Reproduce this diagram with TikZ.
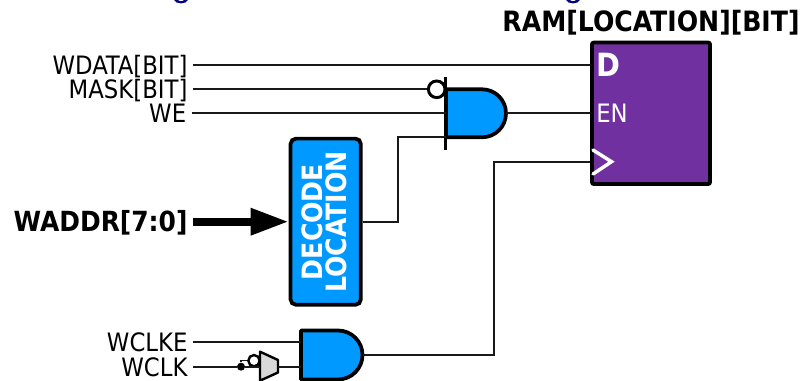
\documentclass[tikz,border=0pt]{standalone}
\usepackage{fontspec}
\setmainfont{DejaVu Sans Condensed}
\usetikzlibrary{arrows.meta}

\begin{document}
\begin{tikzpicture}[x=0.75pt,y=-0.75pt]
	\tikzstyle{wire} = [line width=1.5pt, black!90]
	\tikzstyle{gate} = [draw=black, line width=2.8pt, line join=round, fill=gateblue]
	\tikzstyle{lbl} = [anchor=east, inner sep=0pt, outer sep=4pt, font=\fontsize{19}{19}\selectfont, text height=14pt, text depth=0pt]
	\tikzstyle{lblb} = [lbl, font=\fontsize{20.8}{21}\selectfont\bfseries, text height=15.4pt]
	\definecolor{gateblue}{HTML}{0099FF}
	\definecolor{rampurple}{HTML}{7030A0}
	\definecolor{titlenavy}{HTML}{000080}
	\useasboundingbox (0,0) rectangle (801,381);
	% top edge
	\fill [titlenavy] (174,0) .. controls (176,4.5) and (186,4.5) .. (188,0) -- (184,0) .. controls (183,1.5) and (179,1.5) .. (178,0) -- cycle;
	\fill [titlenavy] (566,0) .. controls (568,4.5) and (578,4.5) .. (580,0) -- (576,0) .. controls (575,1.5) and (571,1.5) .. (570,0) -- cycle;
	% inputs
	\node [lbl] (wdata) at (192.8,65.3) {WDATA[BIT]};
	\node [lbl] (mask) at (192.8,89.3) {MASK[BIT]};
	\node [lbl] (we) at (191.5,113.3) {WE};
	\node [lblb] (waddr) at (192.8,221.7) {WADDR[7:0]};
	\node [lbl] (wclke) at (192.8,342.3) {WCLKE};
	\node [lbl] (wclk) at (192.8,366.7) {WCLK};
	% ram
	\node [draw=black, line width=2.8pt, fill=rampurple, rounded corners=1.5pt, minimum width=88.6pt, minimum height=106.2pt, inner sep=0pt] (ram) at (651,113.3) {};
	\node [anchor=south, inner sep=0pt, font=\fontsize{21}{21}\selectfont\bfseries] (ramname) at (651,35) {RAM[LOCATION][BIT]};
	\node [anchor=west, inner sep=0pt, text=white, font=\fontsize{24}{24}\selectfont\bfseries] (d) at (596,65.3) {D};
	\node [anchor=west, inner sep=0pt, text=white, font=\fontsize{19}{19}\selectfont] (en) at (596,113.3) {EN};
	\coordinate (clk) at (590,161.7);
	\draw [white, line width=2.6pt, line cap=round] (593,150) -- (611.5,161.7) -- (593,174);
	% decoder
	\node [draw=black, line width=2.8pt, fill=gateblue, rounded corners=4pt, minimum width=52.7pt, minimum height=124.6pt, inner sep=0pt] (decode) at (325.7,221.7) {};
	\node [rotate=90, align=center, text=white, inner sep=0pt, font=\fontsize{21}{18}\selectfont\bfseries] (decodetxt) at (324.7,222) {DECODE\\LOCATION};
	% first and gate
	\draw [gate] (446,89.3) -- (482,89.3) .. controls (495.3,89.3) and (506,100) .. (506,113.3) .. controls (506,126.6) and (495.3,137.3) .. (482,137.3) -- (446,137.3) -- cycle;
	\coordinate (andout) at (506,113.3);
	\coordinate (andb) at (446,137.3);
	\coordinate (andw) at (446,113.3);
	\coordinate (bartop) at (445.7,76.7);
	\coordinate (barbot) at (445.7,150);
	\draw [line width=2.4pt] (bartop) -- (barbot);
	\node [circle, draw=black, line width=2.2pt, fill=white, minimum size=12.5pt, inner sep=0pt] (inv) at (436.7,89.3) {};
	% second and gate
	\draw [gate] (301,330.5) -- (338,330.5) .. controls (351.5,330.5) and (362.5,341.5) .. (362.5,355) .. controls (362.5,368.5) and (351.5,379.5) .. (338,379.5) -- (301,379.5) -- cycle;
	\coordinate (clkout) at (362.5,355);
	\coordinate (gatein) at (301,366.7);
	% clock latch
	\draw [black, line width=1.8pt, fill=black!15, line join=round] (260,351.7) -- (278,360) -- (278,372.5) -- (260,380.7) -- cycle;
	\node [circle, draw=black, line width=1.8pt, fill=white, minimum size=8.5pt, inner sep=0pt] (latchinv) at (254,360.7) {};
	\node [circle, fill=black, minimum size=6pt, inner sep=0pt] (dot) at (241,366.7) {};
	% wires
	\draw [wire] (wdata.east) -- (wdata.east -| ram.west);
	\draw [wire] (mask.east) -- (inv.west);
	\draw [wire] (we.east) -- (andw);
	\draw [wire] (andout) -- (andout -| ram.west);
	\draw [wire] (decode.east) -| (398,137.3) -- (andb);
	\draw [wire] (clkout) -| (494.3,161.7) -- (clk);
	\draw [wire] (wclke.east) -- (wclke.east -| 301,0);
	\draw [wire] (wclk.east) -- (dot);
	\draw [wire] (dot) -- (260,366.7);
	\draw [wire, line width=1pt] (dot) -- (241,360.7) -- (latchinv);
	\draw [wire] (278,366.7) -- (gatein);
	\draw [line width=6pt, -{Triangle[length=28.5pt,width=19pt]}] (waddr.east) -- (decode.west);
\end{tikzpicture}
\end{document}
